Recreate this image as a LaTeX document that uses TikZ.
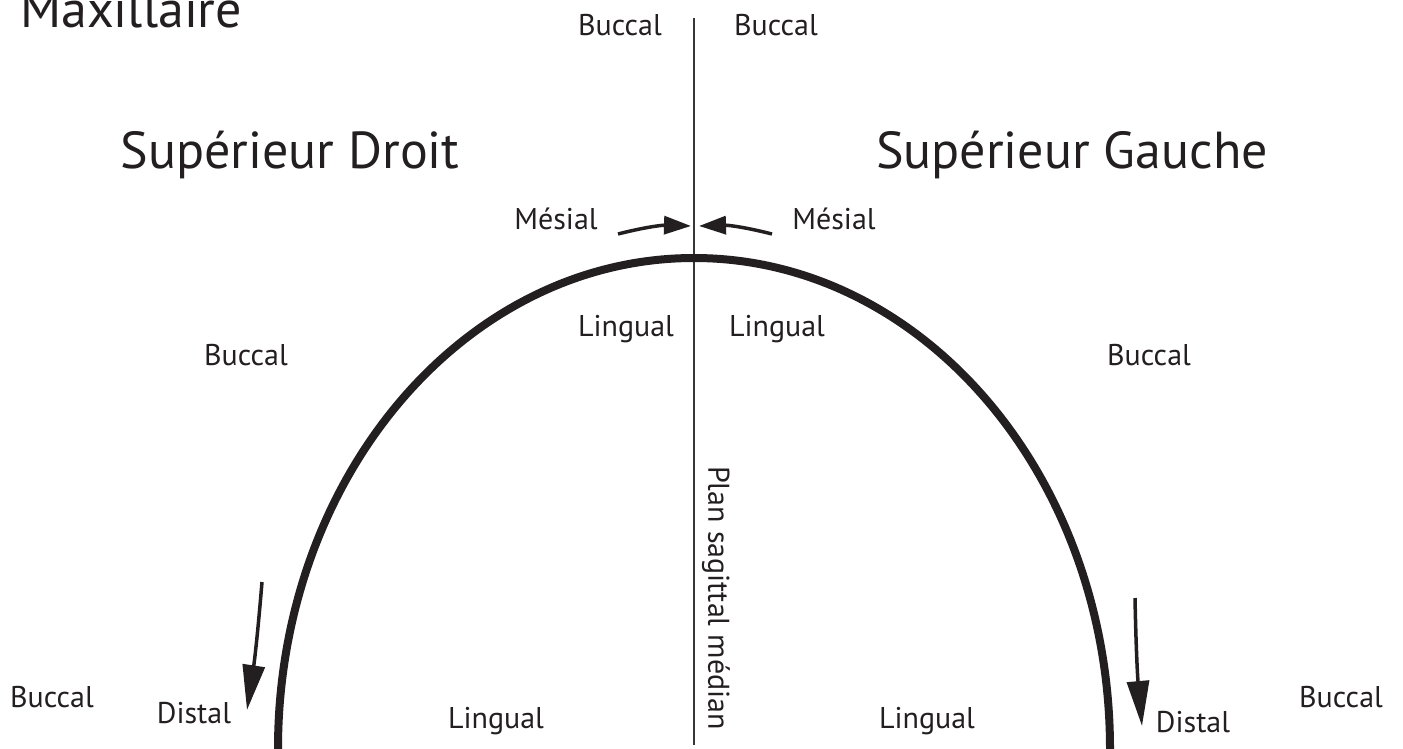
\documentclass[tikz,border=0pt]{standalone}
\usepackage{fontspec}
\setmainfont{PT Sans}
\usepackage{xcolor}
\definecolor{archblack}{RGB}{35,31,32}
\definecolor{linegray}{RGB}{55,55,55}
\usetikzlibrary{arrows.meta,positioning}
\tikzset{
  lbl/.style={font=\fontsize{30}{35}\selectfont, inner sep=0pt, text=archblack},
  quad/.style={font=\fontsize{52}{60}\selectfont, inner sep=0pt, text=archblack},
  mesarrow/.style={draw=archblack, line width=3.5pt,
                   -{Triangle[length=27pt,width=18pt]}},
  disarrow/.style={draw=archblack, line width=3.5pt,
                   -{Triangle[length=45pt,width=22pt]}},
}

\begin{document}
\begin{tikzpicture}[x=1pt, y=-1pt]
\useasboundingbox (0,0) rectangle (1403,749);

% Midline and dental arch
\coordinate (midtop) at (694,18);
\coordinate (midbot) at (694,745);
\draw[line width=2.2pt, draw=linegray] (midtop) -- (midbot);
\draw[line width=8pt, draw=archblack] (278,749)
  arc[start angle=180, end angle=360, x radius=416, y radius=491];

% Titles
\node[quad, anchor=base west] (maxi) at (20,28) {Maxillaire};
\node[quad] (supd) at (290,155) {Supérieur Droit};
\node[quad] (supg) at (1072,155) {Supérieur Gauche};

% Top labels
\node[lbl] (bucTL) at (620,25) {Buccal};
\node[lbl] (bucTR) at (776,25) {Buccal};
\node[lbl] (mesL) at (556,219) {Mésial};
\node[lbl] (mesR) at (834,219) {Mésial};
\node[lbl] (linL) at (626,329) {Lingual};
\node[lbl] (linR) at (777,329) {Lingual};
\node[lbl] (bucML) at (246,355) {Buccal};
\node[lbl] (bucMR) at (1149,355) {Buccal};

% Bottom labels
\node[lbl] (bucBL) at (52,697) {Buccal};
\node[lbl] (bucBR) at (1341,697) {Buccal};
\node[lbl] (disL) at (194,713) {Distal};
\node[lbl] (disR) at (1193,722) {Distal};
\node[lbl] (linBL) at (496,721) {Lingual};
\node[lbl] (linBR) at (927,721) {Lingual};
\node[lbl, rotate=-90] (plan) at (716,598) {Plan sagittal médian};

% Direction arrows
\coordinate (mesLs) at (618,234);
\coordinate (mesLt) at (691,226);
\coordinate (mesRs) at (772,234);
\coordinate (mesRt) at (699,226);
\draw[mesarrow] (mesLs) to[bend left=8] (mesLt);
\draw[mesarrow] (mesRs) to[bend right=8] (mesRt);

\coordinate (disLs) at (262,582);
\coordinate (disLt) at (247,710);
\coordinate (disRs) at (1135,598);
\coordinate (disRt) at (1142,726);
\draw[disarrow] (disLs) to[bend left=2] (disLt);
\draw[disarrow] (disRs) to[bend right=2] (disRt);
\end{tikzpicture}
\end{document}
